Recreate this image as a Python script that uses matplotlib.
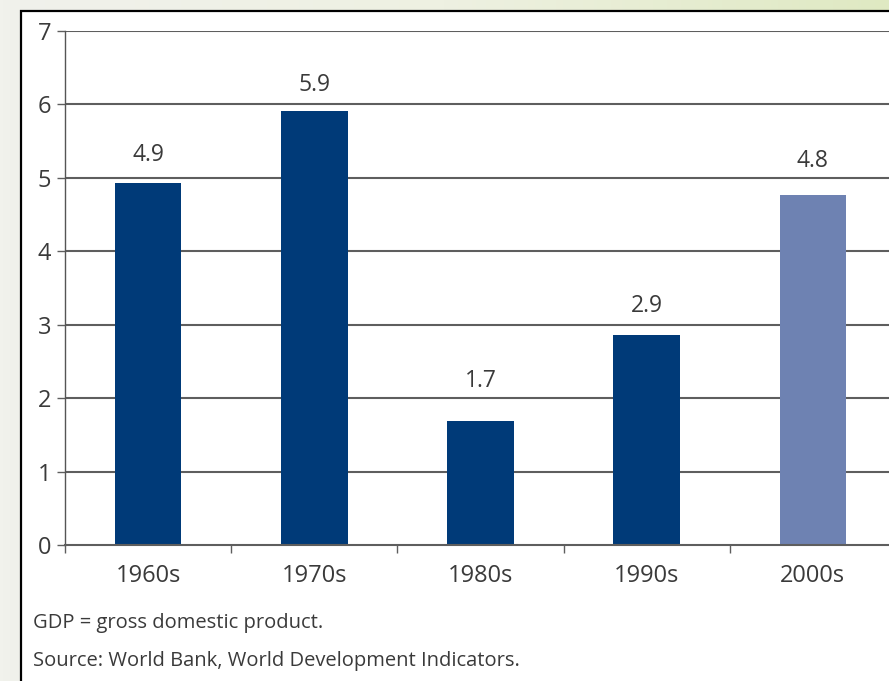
import matplotlib as mpl
mpl.use('agg')
import matplotlib.pyplot as plt
import numpy as np
from matplotlib.patches import Rectangle

plt.rcParams['font.family'] = ['Open Sans', 'DejaVu Sans']

# data
decades = ['1960s', '1970s', '1980s', '1990s', '2000s']
growth = [4.93, 5.91, 1.69, 2.86, 4.77]
growth_labels = ['4.9', '5.9', '1.7', '2.9', '4.8']
bar_colors = ['#003a78', '#003a78', '#003a78', '#003a78', '#6e82b2']
y_ticks = [0, 1, 2, 3, 4, 5, 6, 7]
notes = ['GDP = gross domestic product.',
         'Source: World Bank, World Development Indicators.']

# label lift above each bar (points), set by hand in the original
label_lift = [20, 19, 29, 21, 24.5]

text_col = '#3a3a3a'
grid_col = '#5e5e5e'

fig = plt.figure(figsize=(8.89, 6.81), dpi=100)

# faint greenish page behind the white panel
bg = fig.add_axes([0, 0, 1, 1], zorder=-10)
grad = np.linspace(0, 1, 256)[None, :]
cmap = mpl.colors.LinearSegmentedColormap.from_list('pg', ['#f1f2ec', '#eef1e2', '#dfe9c2'])
bg.imshow(grad, aspect='auto', cmap=cmap, extent=[0, 1, 0, 1])
bg.set_axis_off()
fig.patches.append(Rectangle((20.5 / 889, -0.1), 1.2, 1.1 - 10.5 / 681,
                             transform=fig.transFigure, facecolor='white',
                             edgecolor='black', linewidth=1.6, zorder=-5))

ax = fig.add_axes([65 / 889, 136 / 681, (896 - 65) / 889, (545 - 31) / 681])
ax.set_facecolor('none')
x = np.arange(len(decades))
ax.bar(x, growth, width=0.4, color=bar_colors, zorder=3)

for xi, v, lab, dy in zip(x, growth, growth_labels, label_lift):
    ax.annotate(lab, (xi, v), xytext=(0, dy), textcoords='offset points',
                ha='center', va='center', fontsize=16.5, color=text_col)

ax.set_xlim(-0.5, 4.5)
ax.set_ylim(0, 7)
ax.set_yticks(y_ticks)
for t in y_ticks[1:]:
    ax.axhline(t, color=grid_col, linewidth=1.5, zorder=2)

ax.set_xticks(x)
ax.set_xticklabels(decades)
ax.set_xticks(np.arange(-0.5, 5, 1), minor=True)
ax.tick_params(axis='x', which='major', length=0, pad=14, labelsize=17, labelcolor=text_col)
ax.tick_params(axis='x', which='minor', length=6, width=1, color=grid_col, direction='out')
ax.tick_params(axis='y', length=6, width=1, color=grid_col, pad=4, labelsize=17, labelcolor=text_col)

for s in ['top', 'right']:
    ax.spines[s].set_visible(False)
ax.spines['left'].set_color('#555555')
ax.spines['left'].set_linewidth(1)
ax.spines['bottom'].set_color(grid_col)
ax.spines['bottom'].set_linewidth(1.5)
ax.spines['bottom'].set_zorder(4)

fig.text(33 / 889, 1 - 623 / 681, notes[0], fontsize=14.5, color=text_col, va='center')
fig.text(33 / 889, 1 - 661 / 681, notes[1], fontsize=14.5, color=text_col, va='center')

fig.savefig('out.png', dpi=100)
